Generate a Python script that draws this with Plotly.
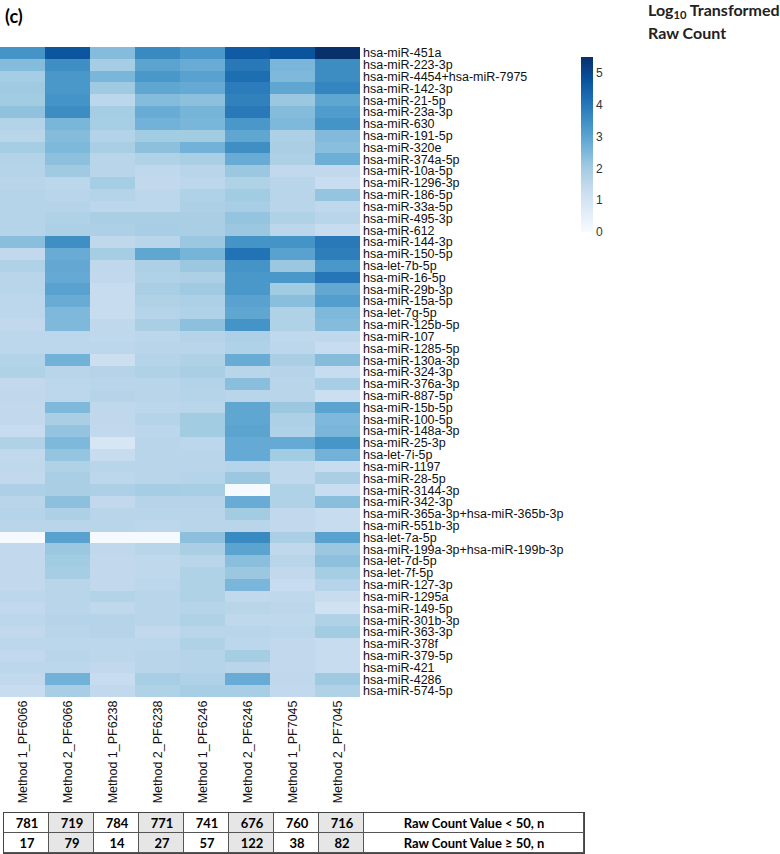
import plotly.graph_objects as go

# row labels (top to bottom)
mirnas = ['hsa-miR-451a', 'hsa-miR-223-3p', 'hsa-miR-4454+hsa-miR-7975', 'hsa-miR-142-3p',
          'hsa-miR-21-5p', 'hsa-miR-23a-3p', 'hsa-miR-630', 'hsa-miR-191-5p', 'hsa-miR-320e',
          'hsa-miR-374a-5p', 'hsa-miR-10a-5p', 'hsa-miR-1296-3p', 'hsa-miR-186-5p', 'hsa-miR-33a-5p',
          'hsa-miR-495-3p', 'hsa-miR-612', 'hsa-miR-144-3p', 'hsa-miR-150-5p', 'hsa-let-7b-5p',
          'hsa-miR-16-5p', 'hsa-miR-29b-3p', 'hsa-miR-15a-5p', 'hsa-let-7g-5p', 'hsa-miR-125b-5p',
          'hsa-miR-107', 'hsa-miR-1285-5p', 'hsa-miR-130a-3p', 'hsa-miR-324-3p', 'hsa-miR-376a-3p',
          'hsa-miR-887-5p', 'hsa-miR-15b-5p', 'hsa-miR-100-5p', 'hsa-miR-148a-3p', 'hsa-miR-25-3p',
          'hsa-let-7i-5p', 'hsa-miR-1197', 'hsa-miR-28-5p', 'hsa-miR-3144-3p', 'hsa-miR-342-3p',
          'hsa-miR-365a-3p+hsa-miR-365b-3p', 'hsa-miR-551b-3p', 'hsa-let-7a-5p',
          'hsa-miR-199a-3p+hsa-miR-199b-3p', 'hsa-let-7d-5p', 'hsa-let-7f-5p', 'hsa-miR-127-3p',
          'hsa-miR-1295a', 'hsa-miR-149-5p', 'hsa-miR-301b-3p', 'hsa-miR-363-3p', 'hsa-miR-378f',
          'hsa-miR-379-5p', 'hsa-miR-421', 'hsa-miR-4286', 'hsa-miR-574-5p']

samples = ['Method 1_PF6066', 'Method 2_PF6066', 'Method 1_PF6238', 'Method 2_PF6238',
           'Method 1_PF6246', 'Method 2_PF6246', 'Method 1_PF7045', 'Method 2_PF7045']

# log10 raw counts per sample
m1_pf6066 = [3.4, 2.4, 1.95, 2.05, 2.0, 2.25, 1.7, 1.6, 1.95, 1.7, 1.65, 1.6, 1.65, 1.65, 1.65, 1.65,
             2.35, 1.45, 1.75, 1.6, 1.6, 1.55, 1.55, 1.45, 1.55, 1.55, 1.7, 1.75, 1.45, 1.5, 1.45, 1.45,
             1.35, 1.75, 1.45, 1.5, 1.45, 1.8, 1.6, 1.65, 1.6, 0.05, 1.45, 1.45, 1.45, 1.45, 1.55, 1.45,
             1.55, 1.45, 1.55, 1.45, 1.55, 1.45, 1.35]
m2_pf6066 = [4.7, 3.5, 3.3, 3.3, 3.4, 3.55, 2.55, 2.4, 2.5, 2.3, 2.05, 1.55, 1.6, 1.65, 1.75, 1.8,
             3.5, 2.8, 2.9, 2.85, 3.05, 2.8, 2.5, 2.5, 1.55, 1.55, 2.65, 1.6, 1.55, 1.55, 2.5, 1.85,
             2.2, 2.5, 2.2, 1.75, 1.85, 1.85, 2.3, 1.8, 1.6, 3.05, 2.1, 2.0, 1.95, 1.6, 1.6, 1.6,
             1.65, 1.6, 1.55, 1.6, 1.55, 2.65, 1.9]
m1_pf6238 = [2.4, 1.95, 2.55, 2.05, 1.55, 1.95, 1.9, 1.7, 1.85, 1.6, 1.6, 1.95, 1.65, 1.55, 1.85, 1.8,
             1.5, 1.95, 1.5, 1.45, 1.35, 1.35, 1.35, 1.5, 1.5, 1.55, 1.2, 1.65, 1.6, 1.65, 1.5, 1.5,
             1.45, 0.9, 1.35, 1.6, 1.55, 1.8, 1.45, 1.6, 1.6, 0.05, 1.5, 1.45, 1.45, 1.45, 1.7, 1.5,
             1.65, 1.65, 1.55, 1.55, 1.45, 1.35, 1.45]
m2_pf6238 = [3.6, 3.0, 3.3, 2.95, 2.4, 2.8, 2.65, 2.0, 2.3, 1.75, 1.5, 1.45, 1.55, 1.55, 1.85, 1.9,
             1.6, 2.95, 1.8, 1.75, 1.85, 1.75, 1.65, 1.85, 1.55, 1.6, 1.65, 1.75, 1.6, 1.6, 1.55, 1.65,
             1.55, 1.6, 1.6, 1.6, 1.6, 1.95, 1.65, 1.6, 1.55, 0.05, 1.6, 1.5, 1.5, 1.55, 1.6, 1.6,
             1.6, 1.45, 1.55, 1.6, 1.6, 1.9, 1.75]
m1_pf6246 = [3.3, 2.8, 3.05, 2.85, 2.3, 2.6, 2.55, 2.0, 2.65, 1.85, 1.6, 1.55, 1.75, 1.8, 1.85, 1.85,
             2.1, 2.6, 2.1, 1.8, 2.05, 1.8, 1.75, 2.3, 1.65, 1.6, 1.75, 1.85, 1.7, 1.65, 1.6, 2.0,
             2.0, 1.55, 1.6, 1.6, 1.65, 1.9, 1.65, 1.6, 1.6, 2.3, 1.85, 1.6, 1.75, 1.75, 1.75, 1.65,
             1.75, 1.6, 1.75, 1.65, 1.65, 1.75, 1.9]
m2_pf6246 = [4.6, 3.95, 4.2, 3.9, 3.8, 3.95, 3.3, 2.95, 3.5, 2.8, 2.1, 1.75, 2.0, 1.9, 2.2, 2.1,
             3.4, 4.1, 3.4, 3.3, 3.3, 3.05, 2.95, 3.4, 1.8, 1.75, 2.8, 1.6, 2.35, 1.6, 2.95, 2.95,
             3.0, 2.85, 2.85, 1.65, 2.1, 0.05, 2.8, 2.0, 1.6, 3.6, 3.0, 2.35, 2.1, 2.55, 1.45, 1.6,
             1.5, 1.6, 1.55, 1.95, 1.6, 2.8, 1.9]
m1_pf7045 = [4.75, 2.55, 2.5, 2.95, 2.1, 2.4, 2.5, 1.8, 1.85, 1.8, 1.45, 1.6, 1.6, 1.6, 1.75, 1.55,
             3.4, 3.05, 2.1, 3.3, 2.0, 2.35, 1.75, 1.75, 1.5, 1.55, 1.85, 1.65, 1.6, 1.6, 2.1, 1.8,
             1.75, 2.85, 2.0, 1.5, 1.5, 1.75, 1.75, 1.45, 1.45, 1.85, 1.5, 1.6, 1.45, 1.35, 1.5, 1.55,
             1.5, 1.55, 1.45, 1.45, 1.45, 1.5, 1.45]
m2_pf7045 = [5.5, 3.55, 3.55, 3.7, 2.95, 3.2, 3.4, 2.45, 2.35, 2.75, 1.45, 1.3, 2.2, 1.5, 1.6, 1.35,
             3.95, 3.85, 3.3, 4.05, 2.9, 3.15, 2.5, 2.4, 1.5, 1.35, 2.4, 1.35, 1.9, 1.2, 3.0, 2.5,
             2.55, 3.35, 2.65, 1.35, 1.85, 1.3, 2.35, 1.35, 1.35, 3.05, 2.1, 2.3, 1.95, 1.65, 1.35, 1.1,
             1.75, 2.0, 1.35, 1.35, 1.35, 2.05, 1.75]

# counts table under the heatmap
below_50 = [781, 719, 784, 771, 741, 676, 760, 716]
above_50 = [17, 79, 14, 27, 57, 122, 38, 82]
table_labels = ['Raw Count Value < 50, n', 'Raw Count Value \u2265 50, n']

blues = [[0.0, '#f7fbff'], [0.125, '#deebf7'], [0.25, '#c6dbef'], [0.375, '#9ecae1'],
         [0.5, '#6baed6'], [0.625, '#4292c6'], [0.75, '#2171b5'], [0.875, '#08519c'],
         [1.0, '#08306b']]

cols = [m1_pf6066, m2_pf6066, m1_pf6238, m2_pf6238, m1_pf6246, m2_pf6246, m1_pf7045, m2_pf7045]
z = [list(r) for r in zip(*cols, strict=True)]

fig = go.Figure()

fig.add_trace(go.Heatmap(
    z=z, x=samples, y=mirnas,
    colorscale=blues, zmin=0, zmax=5.5,
    colorbar=dict(x=571/780, xanchor='left', y=1-47/854, yanchor='top',
                  len=195/854, lenmode='fraction', thickness=12, outlinewidth=0,
                  tickvals=[0, 1, 2, 3, 4, 5], ticks='',
                  tickfont=dict(family='Liberation Sans', size=12, color='#333')),
    hoverinfo='skip',
))

# table drawn as a second small heatmap, last column is wide
edges = [0, 1, 2, 3, 4, 5, 6, 7, 8, 8 + 220/45]
shade = [[0, 1, 0, 1, 0, 1, 0, 1, 0], [0, 1, 0, 1, 0, 1, 0, 1, 0]]
cell_text = [[str(v) for v in below_50] + [table_labels[0]],
             [str(v) for v in above_50] + [table_labels[1]]]
fig.add_trace(go.Heatmap(
    z=shade, x=edges, y=[0, 1], xaxis='x2', yaxis='y2',
    colorscale=[[0, 'white'], [1, '#e6e6e6']], showscale=False,
    text=cell_text, texttemplate='<b>%{text}</b>',
    textfont=dict(family='Lato', size=13, color='black'),
    xgap=1, ygap=1, hoverinfo='skip',
))

fig.update_layout(
    width=780, height=854,
    margin=dict(l=0, r=0, t=0, b=0, autoexpand=False),
    paper_bgcolor='white', plot_bgcolor='#555',
    showlegend=False,
    xaxis=dict(domain=[0, 360/780], tickangle=-90, showgrid=False, zeroline=False,
               automargin=False, ticks='',
               tickfont=dict(family='Liberation Sans', size=12.5, color='#111')),
    yaxis=dict(domain=[1-697/854, 1-47/854], autorange='reversed', side='right',
               showgrid=False, zeroline=False, ticks='', ticklabelstandoff=2,
               automargin=False, tickmode='array', tickvals=mirnas, ticktext=mirnas,
               tickfont=dict(family='Liberation Sans', size=12.5, color='#111')),
    xaxis2=dict(domain=[4/780, 584/780], anchor='y2', range=[0, edges[-1]],
                showticklabels=False, showgrid=False, zeroline=False, automargin=False,
                showline=True, mirror=True, linecolor='#444', linewidth=1),
    yaxis2=dict(domain=[1-853/854, 1-813/854], anchor='x2', range=[1.5, -0.5],
                showticklabels=False, showgrid=False, zeroline=False, automargin=False,
                showline=True, mirror=True, linecolor='#444', linewidth=1),
)

fig.add_annotation(text='<b>(c)</b>', xref='paper', yref='paper', x=3/780, y=1-16/854,
                   xanchor='left', yanchor='middle', showarrow=False,
                   font=dict(family='Lato', size=18, color='black'))
fig.add_annotation(text='<b>Log<sub>10</sub> Transformed</b>', xref='paper', yref='paper',
                   x=646/780, y=1-10/854, xanchor='left', yanchor='middle', showarrow=False,
                   font=dict(family='Lato', size=16, color='#222'))
fig.add_annotation(text='<b>Raw Count</b>', xref='paper', yref='paper',
                   x=646/780, y=1-32/854, xanchor='left', yanchor='middle', showarrow=False,
                   font=dict(family='Lato', size=16, color='#222'))

# browser body margin would shift the figure by 8px
fig.write_html("out.html", config={'displayModeBar': False},
               post_script="document.body.style.margin='0';")
